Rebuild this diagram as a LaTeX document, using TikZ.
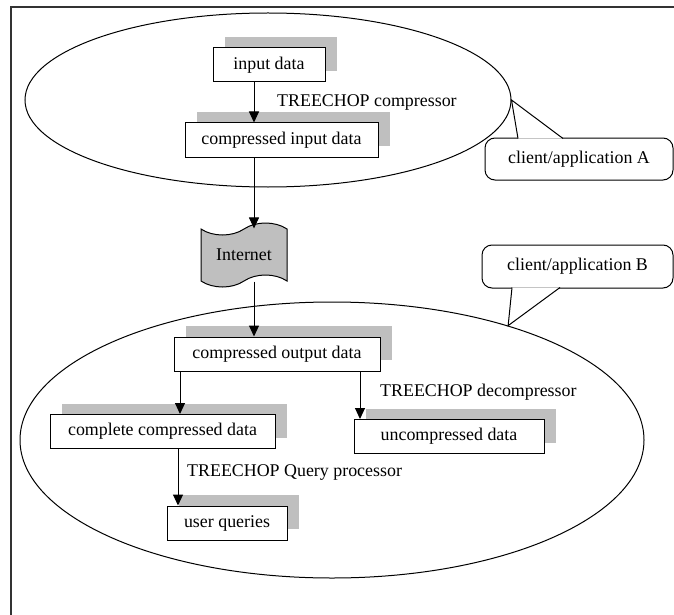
\documentclass[tikz,border=0pt]{standalone}
\usepackage{fontspec}
\setmainfont{Liberation Serif}
\usetikzlibrary{arrows.meta,positioning,shapes.geometric,shapes.symbols,shadows}
\definecolor{shade}{gray}{0.75}

\begin{document}
\begin{tikzpicture}[x=1pt, y=-1pt,
  txt/.style={font=\fontsize{17.9}{20}\selectfont},
  databox/.style={draw, line width=1pt, fill=white, minimum height=34pt,
                  inner sep=0pt, txt,
                  general shadow={shadow xshift=12pt, shadow yshift=11pt, fill=shade}},
  appzone/.style={draw, ellipse, line width=1pt, inner sep=0pt},
  bubble/.style={draw, line width=1pt, rounded corners=10pt, fill=white,
                 inner sep=0pt, txt},
  pointer/.style={draw, line width=1pt, fill=white},
  net/.style={draw, tape, line width=1pt, fill=shade, tape bend height=12pt,
              inner sep=0pt, txt},
  arr/.style={-{Triangle[length=11pt,width=10pt]}, line width=1pt},
  lbl/.style={anchor=west, inner sep=0pt, txt},
]
\useasboundingbox (0,0) rectangle (674,615);

% Page frame
\draw[line width=1.2pt, black!80] (674,7) -- (11,7) -- (11,615);

% Client A
\node[appzone, minimum width=486pt, minimum height=174pt] (appA) at (268,100) {};
\node[databox, minimum width=112pt] (input) at (269,65) {input data};
\node[databox, minimum width=193pt] (cinput) at (281.5,140) {compressed input data};
\node[lbl] (compr) at (277,102) {TREECHOP compressor};

% Network
\node[net, minimum width=86pt, minimum height=64pt] (internet) at (244,255) {Internet};

% Client B
\node[appzone, minimum width=624pt, minimum height=276pt] (appB) at (332,440) {};
\node[databox, minimum width=206pt] (coutput) at (277,354) {compressed output data};
\node[databox, minimum width=225pt] (complete) at (162.5,431.5) {complete compressed data};
\node[databox, minimum width=190pt] (uncomp) at (449,436.5) {uncompressed data};
\node[databox, minimum width=120pt] (queries) at (227,523) {user queries};
\node[lbl] (decompr) at (380,392) {TREECHOP decompressor};
\node[lbl] (query) at (187,473) {TREECHOP Query processor};

% Callouts
\node[bubble, minimum width=188pt, minimum height=42pt] (bubA) at (579,159) {client/application A};
\draw[pointer] ([xshift=-61pt,yshift=-1pt]bubA.north) -- (appA.east)
  -- ([xshift=-16pt,yshift=-1pt]bubA.north);
\node[bubble, minimum width=191pt, minimum height=43pt] (bubB) at (577.5,266.5) {client/application B};
\draw[pointer] ([xshift=-65.5pt,yshift=1pt]bubB.south) -- (appB.33)
  -- ([xshift=-17.5pt,yshift=1pt]bubB.south);

% Flow
\coordinate (axisA) at (254,0);
\coordinate (axisL) at (180,0);
\coordinate (axisR) at (360,0);
\coordinate (axisQ) at (178,0);
\draw[arr] (input.south -| axisA) -- (cinput.north -| axisA);
\draw[arr] (cinput.south -| axisA) -- (internet.north -| axisA);
\draw[arr] (internet.south -| axisA) -- (coutput.north -| axisA);
\draw[arr] (coutput.south -| axisL) -- (complete.north -| axisL);
\draw[arr] (coutput.south -| axisR) -- (uncomp.north -| axisR);
\draw[arr] (complete.south -| axisQ) -- (queries.north -| axisQ);
\end{tikzpicture}
\end{document}
